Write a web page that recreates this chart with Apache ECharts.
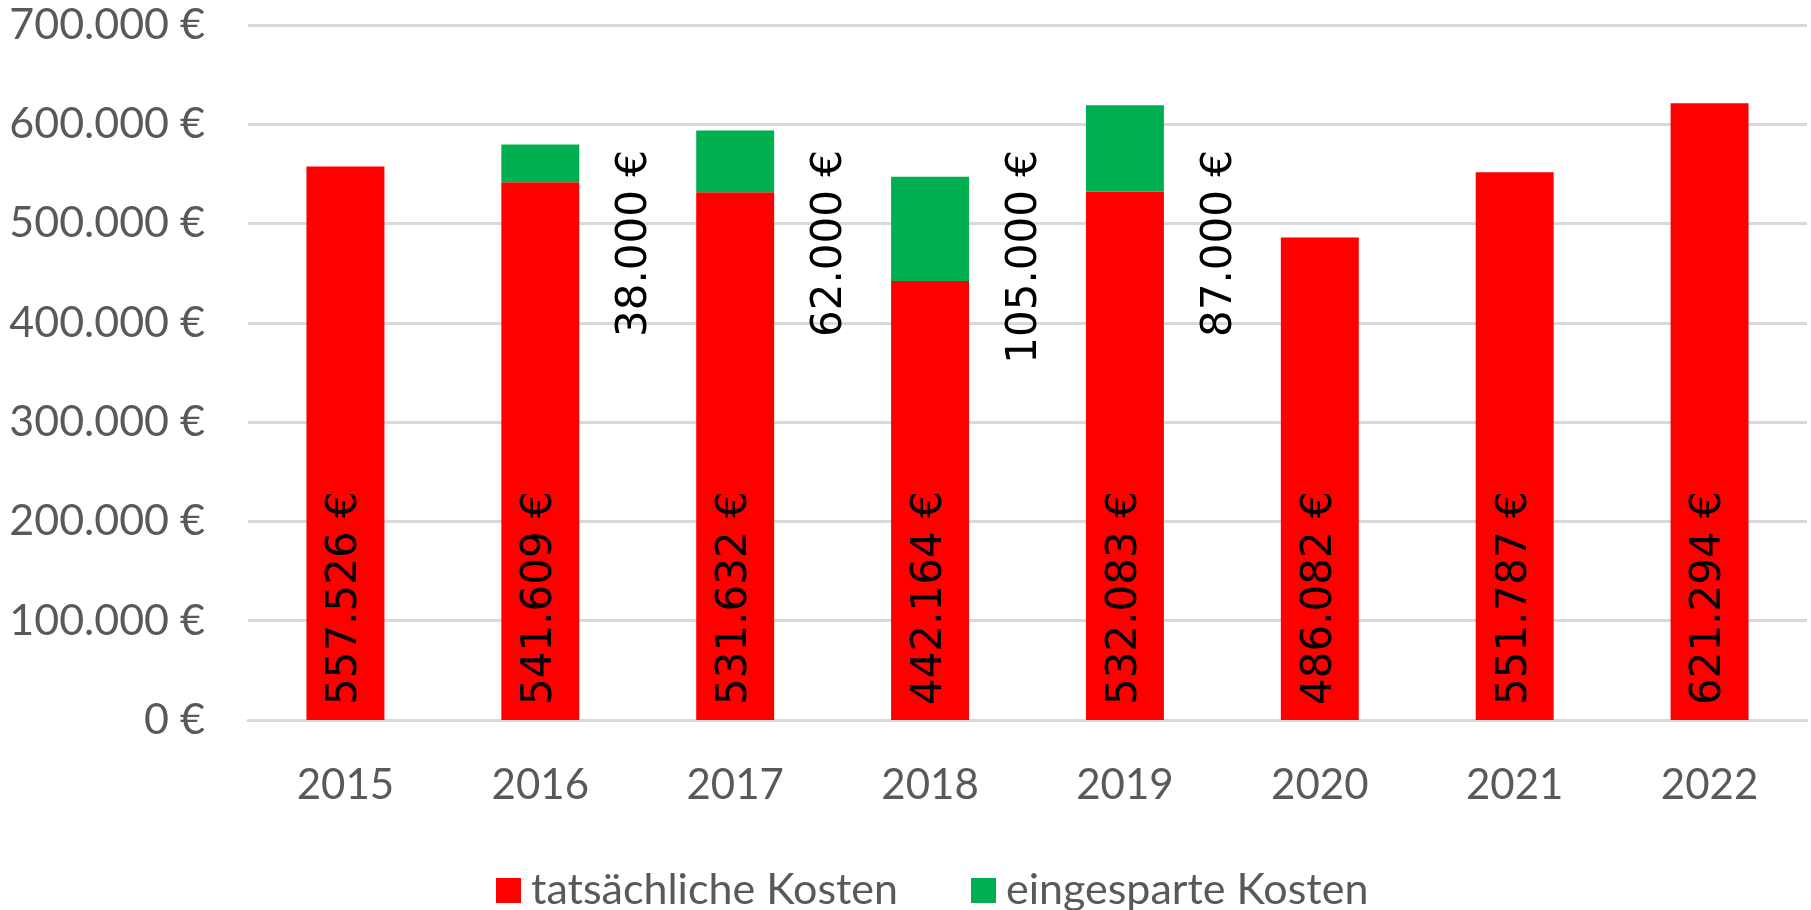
<!DOCTYPE html>
<html>
<head>
<meta charset="utf-8">
<script src="https://cdn.jsdelivr.net/npm/echarts@6/dist/echarts.min.js"></script>
<style>
html,body{margin:0;padding:0;background:#fff;}
#main{width:1811px;height:910px;}
</style>
</head>
<body>
<div id="main"></div>
<script>
//数据
var years = ['2015','2016','2017','2018','2019','2020','2021','2022'];
var tatsaechlich = [557526, 541609, 531632, 442164, 532083, 486082, 551787, 621294];
var eingespart = [null, 38000, 62000, 105000, 87000, null, null, null];
var yTicks = [0, 100000, 200000, 300000, 400000, 500000, 600000, 700000];

function euro(v){
	var s = String(Math.round(v)).replace(/\B(?=(\d{3})+(?!\d))/g, '.');
	return s + ' €';
}

var chart = echarts.init(document.getElementById('main'));

var option = {
	animation: false,
	grid: {
		left: 248,
		right: 4,
		top: 25,
		bottom: 190
	},
	legend: {
		left: 491,
		top: 864,
		itemWidth: 25,
		itemHeight: 25,
		itemGap: 73,
		icon: 'rect',
		textStyle: {
			fontFamily: 'Lato',
			fontSize: 43,
			color: '#595959',
			padding: [0, 0, 0, 5]
		},
		data: ['tatsächliche Kosten', 'eingesparte Kosten']
	},
	xAxis: {
		type: 'category',
		data: years,
		axisTick: {show: false},
		axisLine: {lineStyle: {color: '#d9d9d9', width: 3}},
		axisLabel: {
			margin: 44,
			fontFamily: 'Lato',
			fontSize: 42,
			color: '#595959'
		}
	},
	yAxis: {
		type: 'value',
		min: yTicks[0],
		max: yTicks[yTicks.length - 1],
		interval: 100000,
		axisLine: {show: false},
		axisTick: {show: false},
		splitLine: {lineStyle: {color: '#d9d9d9', width: 3}},
		axisLabel: {
			margin: 43,
			fontFamily: 'Lato',
			fontSize: 43,
			color: '#595959',
			formatter: function(v){ return euro(v); }
		}
	},
	series: [
		{
			name: 'tatsächliche Kosten',
			type: 'bar',
			stack: 'k',
			barWidth: '40%',
			itemStyle: {color: '#ff0000'},
			label: {
				show: true,
				position: 'insideBottom',
				distance: 15,
				rotate: 90,
				align: 'left',
				verticalAlign: 'middle',
				fontFamily: 'DejaVu Sans',
				fontSize: 42,
				color: '#000',
				formatter: function(p){ return euro(p.value); }
			},
			data: tatsaechlich
		},
		{
			name: 'eingesparte Kosten',
			type: 'bar',
			stack: 'k',
			barWidth: '40%',
			itemStyle: {color: '#00b050'},
			label: {
				show: true,
				rotate: 90,
				align: 'right',
				verticalAlign: 'middle',
				fontFamily: 'DejaVu Sans',
				fontSize: 42,
				color: '#000',
				formatter: function(p){ return euro(p.value); }
			},
			labelLayout: function(p){
				return {
					x: p.rect.x + p.rect.width + 56,
					y: 150
				};
			},
			data: eingespart
		}
	]
};

chart.setOption(option);
</script>
</body>
</html>
